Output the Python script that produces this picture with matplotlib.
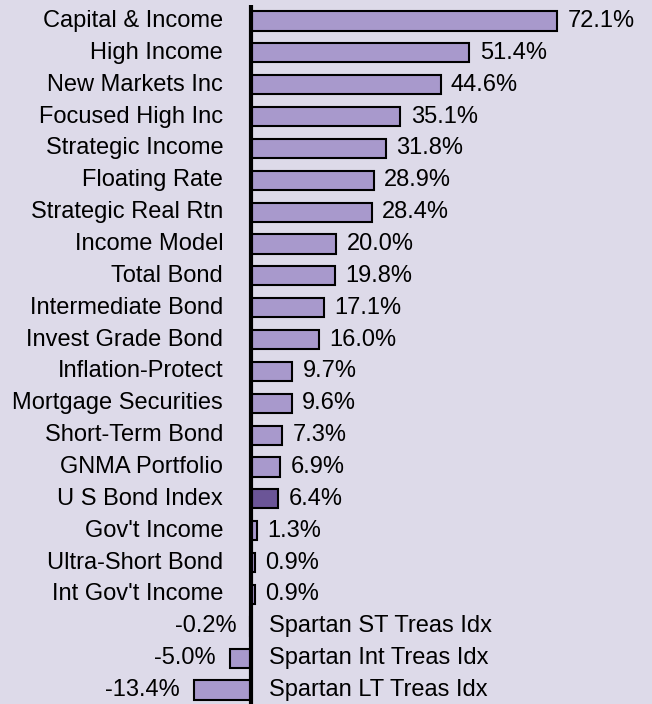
import matplotlib.pyplot as plt

plt.rcParams['font.family'] = ['Liberation Sans', 'DejaVu Sans']

funds = ["Capital & Income", "High Income", "New Markets Inc", "Focused High Inc",
         "Strategic Income", "Floating Rate", "Strategic Real Rtn", "Income Model",
         "Total Bond", "Intermediate Bond", "Invest Grade Bond", "Inflation-Protect",
         "Mortgage Securities", "Short-Term Bond", "GNMA Portfolio", "U S Bond Index",
         "Gov't Income", "Ultra-Short Bond", "Int Gov't Income",
         "Spartan ST Treas Idx", "Spartan Int Treas Idx", "Spartan LT Treas Idx"]
returns = [72.1, 51.4, 44.6, 35.1, 31.8, 28.9, 28.4, 20.0, 19.8, 17.1, 16.0,
           9.7, 9.6, 7.3, 6.9, 6.4, 1.3, 0.9, 0.9, -0.2, -5.0, -13.4]
highlight = "U S Bond Index"

bg = '#dddae9'
bar_color = '#a899cc'
dark_color = '#6b5597'

fig = plt.figure(figsize=(6.52, 7.04), dpi=100, facecolor=bg)
ax = fig.add_axes([0, 0, 1, 1])
ax.set_facecolor(bg)

ypos = list(range(len(funds)))
colors = [dark_color if f == highlight else bar_color for f in funds]
ax.barh(ypos, returns, height=0.6, color=colors, edgecolor='black', linewidth=1.5, zorder=2)

# thick zero line
ax.plot([0, 0], [-0.5, 21.6], color='black', linewidth=3, zorder=3, solid_capstyle='butt')

fs = 17
for y, f, v in zip(ypos, funds, returns):
    if v >= 0:
        ax.annotate(f, (0, y), xytext=(-20, 0), textcoords='offset points',
                    ha='right', va='center', fontsize=fs)
        ax.annotate(f"{v:.1f}%", (v, y), xytext=(7.5, 0), textcoords='offset points',
                    ha='left', va='center', fontsize=fs)
    else:
        ax.annotate(f, (0, y), xytext=(13, 0), textcoords='offset points',
                    ha='left', va='center', fontsize=fs)
        ax.annotate(f"{v:.1f}%", (v, y), xytext=(-10, 0), textcoords='offset points',
                    ha='right', va='center', fontsize=fs)

ax.set_xlim(-59.06, 94.35)
ax.set_ylim(21.44, -0.659)
ax.axis('off')

fig.savefig('out.png', dpi=100, facecolor=bg)
